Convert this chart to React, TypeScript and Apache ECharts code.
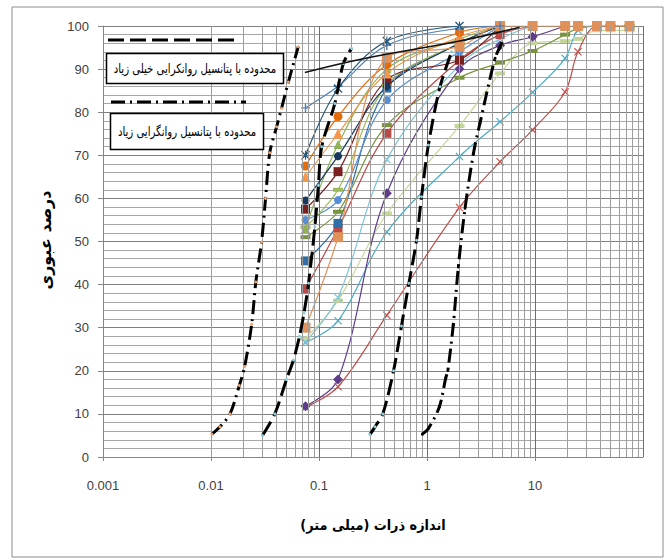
import React, { useEffect, useRef } from "react";
import * as echarts from "echarts";

// Sieve openings (mm) used for every sample curve
const SIEVE = [0.075, 0.15, 0.425, 2, 4.75, 9.5, 19, 25, 37.5, 50, 75];

// Percent passing for each sample, in SIEVE order
const S_NAVY_STAR = [70, 85.5, 96.5, 100];
const S_BLUE_PLUS = [81, 86, 95.5, 99.5, 100];
const S_ORANGE_CIRCLE = [67.5, 79, 91, 98.5, 100];
const S_ORANGE_TRI = [65, 75, 89, 97.5, 100];
const S_DARKBLUE_CIRCLE = [59.5, 69.8, 86, 96, 100];
const S_MAROON_SQUARE = [57.5, 66.2, 87.5, 92.1, 100];
const S_GREEN_TRI = [53, 72.5, 90, 97, 100];
const S_LIGHTGREEN_DASH = [53.3, 62, 86.3, 96, 100];
const S_BLUE_CIRCLE = [55, 59.6, 82.8, 94, 100];
const S_BLUE_SQUARE = [45.5, 54.2, 85.6, 96, 100];
const S_RED_SQUARE = [39, 53, 75.1, 92.1, 98, 100];
const S_ORANGE_SQUARE = [30, 51, 92.6, 95.2, 100, 100, 100, 100, 100, 100, 100];
const S_AQUA_X = [26.5, 31.6, 52.2, 69.7, 77.8, 84.6, 92.5, 99, 100];
const S_LIGHTAQUA_X = [26.7, 37, 69, 91, 97, 100];
const S_PALEGREEN_DASH = [27.5, 36.3, 56.5, 76.8, 89, 96, 96.5, 97, 99, 99, 99];
const S_OLIVE_DASH = [51, 56.9, 77, 88, 91.5, 94.2, 98, 99.5, 100, 100, 100];
const S_PURPLE_DIAMOND = [11.8, 18, 61.2, 90, 95.5, 97.5, 100];
const S_RED_X = [11.5, 16.3, 32.9, 57.9, 68.5, 75.9, 84.7, 94, 100, 100, 100];

// Boundary curves: [size mm, percent passing]
const HIGH_LEFT = [
  [0.0102, 5.3], [0.0121, 7], [0.015, 10], [0.0183, 16.6], [0.0205, 21],
  [0.0238, 30.8], [0.026, 40.6], [0.0294, 49.9], [0.032, 60], [0.035, 70.6],
  [0.0405, 76.6], [0.045, 80.9], [0.052, 87], [0.0643, 95.2],
];
const VERY_HIGH_LEFT = [
  [0.03, 5], [0.039, 10], [0.05, 18], [0.058, 22.5], [0.066, 28], [0.0726, 33.4],
  [0.08, 40.3], [0.0916, 53.4], [0.0987, 63], [0.106, 72], [0.14, 82],
  [0.168, 91.3], [0.2, 94.8],
];
const VERY_HIGH_RIGHT = [
  [0.296, 5.2], [0.33, 7], [0.39, 10], [0.49, 20], [0.58, 30.4], [0.68, 40.3],
  [0.8, 50.3], [0.89, 60.4], [1.03, 72.4], [1.32, 85.9], [1.69, 94],
];
const HIGH_RIGHT = [
  [0.906, 5.3], [1.03, 6.6], [1.3, 11.6], [1.49, 18.3], [1.56, 20.1],
  [1.75, 30.6], [1.95, 44.1], [2.25, 57.7], [2.69, 70.4], [3.09, 77.4],
  [4.27, 92.5], [4.92, 96],
];
const POINTER_LINE = [[0.074, 89.2], [0.27, 92.5], [2, 96.5], [7.2, 99.7]];

// Axis ticks
const X_MIN = 0.001;
const X_MAX = 100;
const Y_TICKS = [0, 10, 20, 30, 40, 50, 60, 70, 80, 90, 100];
const MINOR_MULTIPLIERS = [2, 3, 4, 5, 6, 7, 8, 9];
const DECADES = [0.001, 0.01, 0.1, 1, 10];

const LEGEND_VERY_HIGH = "\u200Fمحدوده با پتانسیل روانکرایی خیلی زیاد\u200F";
const LEGEND_HIGH = "\u200Fمحدوده با پتانسیل روانگرایی زیاد\u200F";
const X_TITLE = "\u200Fاندازه ذرات (میلی متر)\u200F";
const Y_TITLE = "\u200Fدرصد عبوری\u200F";

const X_SYM = "path://M1,0L5,4L9,0L10,1L6,5L10,9L9,10L5,6L1,10L0,9L4,5L0,1Z";
const STAR_SYM =
  "path://M1,0L5,4L9,0L10,1L6,5L10,9L9,10L5,6L1,10L0,9L4,5L0,1Z M4.4,0L5.6,0L5.6,10L4.4,10Z";
const PLUS_SYM = "path://M4.2,0H5.8V4.2H10V5.8H5.8V10H4.2V5.8H0V4.2H4.2Z";

type Sample = { values: number[]; color: string; symbol: string; size: number | number[] };

const SAMPLES: Sample[] = [
  { values: S_PALEGREEN_DASH, color: "#c4d79b", symbol: "rect", size: [10, 4] },
  { values: S_OLIVE_DASH, color: "#77933c", symbol: "rect", size: [10, 4] },
  { values: S_RED_X, color: "#c0504d", symbol: X_SYM, size: 8 },
  { values: S_AQUA_X, color: "#4bacc6", symbol: X_SYM, size: 8 },
  { values: S_LIGHTAQUA_X, color: "#7ec3d7", symbol: X_SYM, size: 8 },
  { values: S_PURPLE_DIAMOND, color: "#5f3c8a", symbol: "diamond", size: 10 },
  { values: S_RED_SQUARE, color: "#b94a48", symbol: "rect", size: 9 },
  { values: S_BLUE_SQUARE, color: "#2f6ea6", symbol: "rect", size: 9 },
  { values: S_BLUE_CIRCLE, color: "#558ed5", symbol: "circle", size: 8 },
  { values: S_LIGHTGREEN_DASH, color: "#9bbb59", symbol: "rect", size: [10, 4] },
  { values: S_GREEN_TRI, color: "#8db356", symbol: "triangle", size: 9 },
  { values: S_MAROON_SQUARE, color: "#7b1e1e", symbol: "rect", size: 9 },
  { values: S_DARKBLUE_CIRCLE, color: "#17375e", symbol: "circle", size: 8 },
  { values: S_ORANGE_TRI, color: "#f79646", symbol: "triangle", size: 10 },
  { values: S_ORANGE_CIRCLE, color: "#e46c0a", symbol: "circle", size: 9 },
  { values: S_ORANGE_SQUARE, color: "#e0915a", symbol: "rect", size: 10 },
  { values: S_BLUE_PLUS, color: "#4f81bd", symbol: PLUS_SYM, size: 9 },
  { values: S_NAVY_STAR, color: "#24577a", symbol: STAR_SYM, size: 9 },
];

function App() {
  const ref = useRef<HTMLDivElement>(null);

  useEffect(() => {
    if (!ref.current) return;
    const chart = echarts.init(ref.current, null, { renderer: "svg" });

    const minorX: number[] = [];
    DECADES.forEach((d) => MINOR_MULTIPLIERS.forEach((m) => minorX.push(d * m)));

    const sampleSeries = SAMPLES.map((s, i) => ({
      type: "line",
      name: "s" + i,
      smooth: 0.35,
      data: s.values.map((v, k) => [SIEVE[k], v]),
      symbol: s.symbol,
      symbolSize: s.size,
      showAllSymbol: true,
      lineStyle: { color: s.color, width: 1.2 },
      itemStyle: { color: s.color },
      z: 3,
    }));

    const boundary = (data: number[][], dash: number[], dot: string) => ({
      type: "line",
      smooth: 0.3,
      data,
      symbol: "circle",
      symbolSize: 3,
      itemStyle: { color: dot },
      lineStyle: { color: "#000", width: 3, type: dash },
      z: 5,
    });

    chart.setOption({
      animation: false,
      backgroundColor: "#fff",
      grid: { left: 103, right: 24, top: 26, bottom: 103 },
      xAxis: {
        type: "log",
        logBase: 10,
        min: X_MIN,
        max: X_MAX,
        axisLine: { show: true, lineStyle: { color: "#868686" } },
        axisTick: { show: true, length: 4, lineStyle: { color: "#868686" } },
        axisLabel: {
          margin: 22,
          color: "#404040",
          fontFamily: "Liberation Sans",
          fontSize: 13,
          showMaxLabel: false,
          formatter: (v: number) => String(Number(v.toPrecision(1))),
        },
        splitLine: { show: true, lineStyle: { color: "#6e6e6e", width: 1 } },
      },
      yAxis: {
        type: "value",
        min: Y_TICKS[0],
        max: Y_TICKS[Y_TICKS.length - 1],
        interval: 10,
        axisLine: { show: true, lineStyle: { color: "#868686" } },
        axisTick: { show: true, length: 5, lineStyle: { color: "#868686" } },
        axisLabel: {
          margin: 14,
          color: "#404040",
          fontFamily: "Liberation Sans",
          fontSize: 13,
        },
        splitLine: { show: true, lineStyle: { color: "#808080", width: 1 } },
        minorTick: { show: false, splitNumber: 5 },
        minorSplitLine: { show: true, lineStyle: { color: "#a6a6a6", width: 1 } },
      },
      series: [
        {
          type: "line",
          data: [],
          silent: true,
          z: 1,
          markLine: {
            silent: true,
            symbol: ["none", "none"],
            label: { show: false },
            lineStyle: { color: "#9e9e9e", width: 1, type: "solid" },
            data: minorX.map((v) => ({ xAxis: v })),
          },
        },
        ...sampleSeries,
        boundary(HIGH_LEFT, [14, 5, 2, 5], "#f0a070"),
        boundary(VERY_HIGH_LEFT, [16, 6], "#8fcfd8"),
        boundary(VERY_HIGH_RIGHT, [16, 6], "#8fcfd8"),
        boundary(HIGH_RIGHT, [14, 5, 2, 5], "#000"),
        {
          type: "line",
          smooth: 0.4,
          data: POINTER_LINE,
          symbol: "none",
          lineStyle: { color: "#111", width: 1.6 },
          z: 6,
        },
      ],
      graphic: [
        {
          type: "rect",
          shape: { x: 12, y: 7, width: 651, height: 550 },
          style: { fill: "none", stroke: "#8c8c8c", lineWidth: 1 },
          silent: true,
        },
        {
          type: "line",
          shape: { x1: 108, y1: 40, x2: 237, y2: 40 },
          style: { stroke: "#000", lineWidth: 3, lineDash: [16, 6] },
          z: 10,
        },
        {
          type: "rect",
          shape: { x: 106.5, y: 53.5, width: 177, height: 30 },
          style: { fill: "#fff", stroke: "#000", lineWidth: 1.5 },
          z: 10,
        },
        {
          type: "text",
          x: 195,
          y: 68.5,
          scaleX: 0.78,
          z: 11,
          style: {
            text: LEGEND_VERY_HIGH,
            font: "13px 'DejaVu Sans'",
            fill: "#000",
            align: "center",
            verticalAlign: "middle",
          },
        },
        {
          type: "line",
          shape: { x1: 111, y1: 102, x2: 246, y2: 102 },
          style: { stroke: "#000", lineWidth: 3, lineDash: [14, 5, 2, 5] },
          z: 10,
        },
        {
          type: "rect",
          shape: { x: 110.5, y: 113.5, width: 153, height: 36 },
          style: { fill: "#fff", stroke: "#000", lineWidth: 1.5 },
          z: 10,
        },
        {
          type: "text",
          x: 187,
          y: 131.5,
          scaleX: 0.78,
          z: 11,
          style: {
            text: LEGEND_HIGH,
            font: "13px 'DejaVu Sans'",
            fill: "#000",
            align: "center",
            verticalAlign: "middle",
          },
        },
        {
          type: "text",
          x: 373,
          y: 525,
          scaleX: 0.92,
          style: {
            text: X_TITLE,
            font: "bold 14px 'DejaVu Sans'",
            fill: "#000",
            align: "center",
            verticalAlign: "middle",
          },
        },
        {
          type: "text",
          x: 45,
          y: 240,
          rotation: Math.PI / 2,
          style: {
            text: Y_TITLE,
            font: "bold 16px 'DejaVu Sans'",
            fill: "#000",
            align: "center",
            verticalAlign: "middle",
          },
        },
      ],
    });

    return () => chart.dispose();
  }, []);

  return (
    <div
      ref={ref}
      style={{ position: "fixed", left: 0, top: 0, width: 667, height: 560, background: "#fff" }}
    />
  );
}

export default App;
